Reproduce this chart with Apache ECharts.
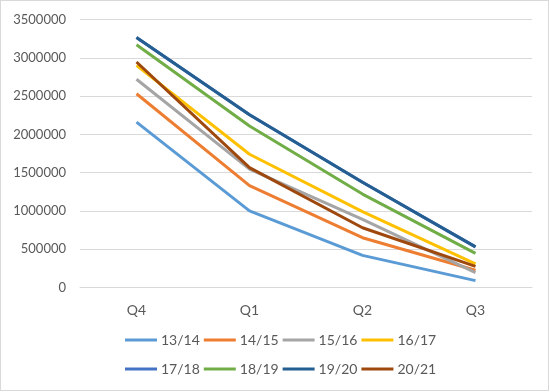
<!DOCTYPE html>
<html>
<head>
<meta charset="utf-8">
<script src="https://cdn.jsdelivr.net/npm/echarts@6/dist/echarts.min.js"></script>
<style>
html,body{margin:0;padding:0;background:#fff;}
#chart{width:550px;height:392px;position:absolute;left:0;top:0;}
#frame{position:absolute;left:0;top:0;width:547px;height:389px;border:1px solid #D9D9D9;pointer-events:none;}
</style>
</head>
<body>
<div id="chart"></div>
<div id="frame"></div>
<script>
const categories = ['Q4', 'Q1', 'Q2', 'Q3'];
const yTicks = [0, 500000, 1000000, 1500000, 2000000, 2500000, 3000000, 3500000];
const seriesNames = ['13/14', '14/15', '15/16', '16/17', '17/18', '18/19', '19/20', '20/21'];
const s1314 = [2160000, 1000000, 420000, 90000];
const s1415 = [2530000, 1330000, 650000, 225000];
const s1516 = [2720000, 1545000, 890000, 195000];
const s1617 = [2900000, 1740000, 990000, 310000];
const s1718 = [3265000, 2255000, 1375000, 530000];
const s1819 = [3170000, 2110000, 1220000, 445000];
const s1920 = [3265000, 2255000, 1375000, 530000];
const s2021 = [2945000, 1565000, 780000, 275000];
const seriesValues = [s1314, s1415, s1516, s1617, s1718, s1819, s1920, s2021];
const colors = ['#5B9BD5', '#ED7D31', '#A5A5A5', '#FFC000', '#4472C4', '#70AD47', '#255E91', '#9E480E'];

const chart = echarts.init(document.getElementById('chart'), null, {renderer: 'canvas'});
const font = 'Lato, "Liberation Sans", sans-serif';
const legendCommon = {
  orient: 'horizontal',
  left: 125,
  itemWidth: 32,
  itemHeight: 3,
  itemGap: 4,
  icon: 'rect',
  textStyle: {color: '#595959', fontSize: 14, fontFamily: font, padding: [0, 0, 0, -1]},
  padding: 0
};
chart.setOption({
  animation: false,
  color: colors,
  grid: {left: 80, right: 18, top: 19.5, bottom: 104.5, containLabel: false},
  legend: [
    Object.assign({}, legendCommon, {top: 333, data: seriesNames.slice(0, 4)}),
    Object.assign({}, legendCommon, {top: 362, data: seriesNames.slice(4)})
  ],
  xAxis: {
    type: 'category',
    data: categories,
    boundaryGap: true,
    axisLine: {show: true, lineStyle: {color: '#D9D9D9', width: 1}},
    axisTick: {show: false},
    axisLabel: {color: '#595959', fontSize: 14, fontFamily: font, margin: 16}
  },
  yAxis: {
    type: 'value',
    min: yTicks[0],
    max: yTicks[yTicks.length - 1],
    interval: yTicks[1] - yTicks[0],
    axisLine: {show: false},
    axisTick: {show: false},
    splitLine: {lineStyle: {color: '#D9D9D9', width: 1}},
    axisLabel: {color: '#595959', fontSize: 13, fontFamily: font, margin: 14,
      formatter: function (v) { return String(v); }}
  },
  series: seriesNames.map((name, i) => ({
    name: name,
    type: 'line',
    data: seriesValues[i],
    symbol: 'none',
    showSymbol: false,
    lineStyle: {width: 3, color: colors[i]},
    itemStyle: {color: colors[i]}
  }))
});
</script>
</body>
</html>
